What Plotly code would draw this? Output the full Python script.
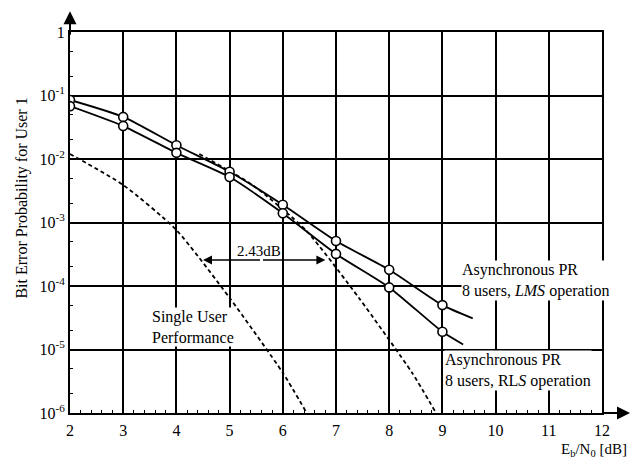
import plotly.graph_objects as go

# ---- data ----
lms_x = [2, 3, 4, 5, 6, 7, 8, 9]
lms_y = [0.085, 0.046, 0.0165, 0.0063, 0.0019, 5.1e-4, 1.8e-4, 5.0e-5]
lms_line_x = [2, 3, 4, 5, 6, 7, 8, 9, 9.57]
lms_line_y = [0.085, 0.046, 0.0165, 0.0063, 0.0019, 5.1e-4, 1.8e-4, 5.0e-5, 3.1e-5]

rls_x = [2, 3, 4, 5, 6, 7, 8, 9]
rls_y = [0.068, 0.033, 0.0125, 0.0052, 0.0014, 3.2e-4, 9.5e-5, 1.9e-5]
rls_line_x = [2, 3, 4, 5, 6, 7, 8, 9, 9.39]
rls_line_y = [0.068, 0.033, 0.0125, 0.0052, 0.0014, 3.2e-4, 9.5e-5, 1.9e-5, 1.2e-5]

single_x = [2, 3, 4, 5, 6, 6.45]
single_y = [0.012, 0.0039, 7.6e-4, 6.5e-5, 4.3e-6, 1e-6]

shifted_x = [4.43, 5.43, 6.43, 7.43, 8.43, 8.88]
shifted_y = [0.012, 0.0039, 7.6e-4, 6.5e-5, 4.3e-6, 1e-6]

x_ticks = [2, 3, 4, 5, 6, 7, 8, 9, 10, 11, 12]
y_tickvals = [1e-6, 1e-5, 1e-4, 1e-3, 1e-2, 1e-1, 1]
y_ticktext = ["10<sup>-6</sup>", "10<sup>-5</sup>", "10<sup>-4</sup>", "10<sup>-3</sup>",
              "10<sup>-2</sup>", "10<sup>-1</sup>", "1"]

FONT = "Liberation Serif"

fig = go.Figure()

line_style = dict(color="black", width=1.8, shape="spline", smoothing=0.6)
dash_style = dict(color="black", width=1.8, dash="4px,3px", shape="spline", smoothing=0.6)
fig.add_trace(go.Scatter(x=single_x, y=single_y, mode="lines", line=dash_style))
fig.add_trace(go.Scatter(x=shifted_x, y=shifted_y, mode="lines", line=dash_style))
fig.add_trace(go.Scatter(x=lms_line_x, y=lms_line_y, mode="lines", line=line_style))
fig.add_trace(go.Scatter(x=rls_line_x, y=rls_line_y, mode="lines", line=line_style))
marker_style = dict(symbol="circle", size=9, color="white", line=dict(color="black", width=1.6))
fig.add_trace(go.Scatter(x=lms_x, y=lms_y, mode="markers", marker=marker_style))
fig.add_trace(go.Scatter(x=rls_x, y=rls_y, mode="markers", marker=marker_style))

txt = dict(family=FONT, size=16, color="black")

annotations = [
    # axis arrows
    dict(xref="paper", yref="paper", x=1.0545, y=0, ax=-30, ay=0, showarrow=True,
         arrowhead=2, arrowsize=1.3, arrowwidth=2, arrowcolor="black", text=""),
    dict(xref="paper", yref="paper", x=0, y=1.0545, ax=0, ay=25, showarrow=True,
         arrowhead=2, arrowsize=1.3, arrowwidth=2, arrowcolor="black", text=""),
    # axis titles
    dict(xref="paper", yref="paper", x=-0.11, y=0.564, textangle=-90, showarrow=False,
         text="Bit Error Probability for User 1", font=txt),
    dict(xref="paper", yref="paper", x=0.985, y=-0.097, xanchor="center", yanchor="middle", showarrow=False,
         text="E<sub>b</sub>/N<sub>0</sub> [dB]", font=dict(family=FONT, size=15, color="black")),
    # labels
    dict(x=3.52, y=-4.65, xref="x", yref="y", xanchor="left", align="left", showarrow=False,
         text="Single User<br>Performance", font=txt, bgcolor="white", borderpad=0),
    dict(x=9.35, y=-3.92, xref="x", yref="y", xanchor="left", align="left", showarrow=False,
         text="Asynchronous PR<br>8 users, <i>LMS</i> operation", font=txt, bgcolor="white", borderpad=0),
    dict(x=9.03, y=-5.33, xref="x", yref="y", xanchor="left", align="left", showarrow=False,
         text="Asynchronous PR<br>8 users, RL<i>S</i> operation", font=txt, bgcolor="white", borderpad=0),
    dict(x=5.55, y=-3.45, xref="x", yref="y", showarrow=False, text="2.43dB",
         font=dict(family=FONT, size=15, color="black"), bgcolor="white", borderpad=0),
    # double arrow for 2.43dB
    dict(x=4.5, y=-3.59, ax=5.6, ay=-3.59, xref="x", yref="y", axref="x", ayref="y",
         showarrow=True, arrowhead=2, arrowsize=1.2, arrowwidth=1.5, arrowcolor="black", text=""),
    dict(x=6.8, y=-3.59, ax=5.6, ay=-3.59, xref="x", yref="y", axref="x", ayref="y",
         showarrow=True, arrowhead=2, arrowsize=1.2, arrowwidth=1.5, arrowcolor="black", text=""),
]

fig.update_layout(
    width=631, height=459,
    margin=dict(l=70, r=29, t=32, b=46),
    paper_bgcolor="white", plot_bgcolor="white",
    showlegend=False,
    font=dict(family=FONT, size=16, color="black"),
    annotations=annotations,
    xaxis=dict(range=[2, 12], tickvals=x_ticks, showgrid=True, gridcolor="black", gridwidth=1.5,
               showline=True, linecolor="black", linewidth=2, mirror=True,
               ticks="inside", ticklen=4, tickcolor="black", zeroline=False,
               ticklabelstandoff=2,
               minor=dict(dtick=0.2, ticks="inside", ticklen=3, tickcolor="black", showgrid=False),
               tickfont=dict(family=FONT, size=16, color="black")),
    yaxis=dict(type="log", range=[-6, 0], tickvals=y_tickvals, ticktext=y_ticktext,
               showgrid=True, gridcolor="black", gridwidth=1.5,
               showline=True, linecolor="black", linewidth=2, mirror=True,
               ticks="inside", ticklen=4, tickcolor="black", zeroline=False,
               minor=dict(ticks="inside", ticklen=3, tickcolor="black", showgrid=False),
               tickfont=dict(family=FONT, size=16, color="black")),
)

fig.write_html("out.html", config={"displayModeBar": False},
               post_script="document.body.style.margin='0';")
